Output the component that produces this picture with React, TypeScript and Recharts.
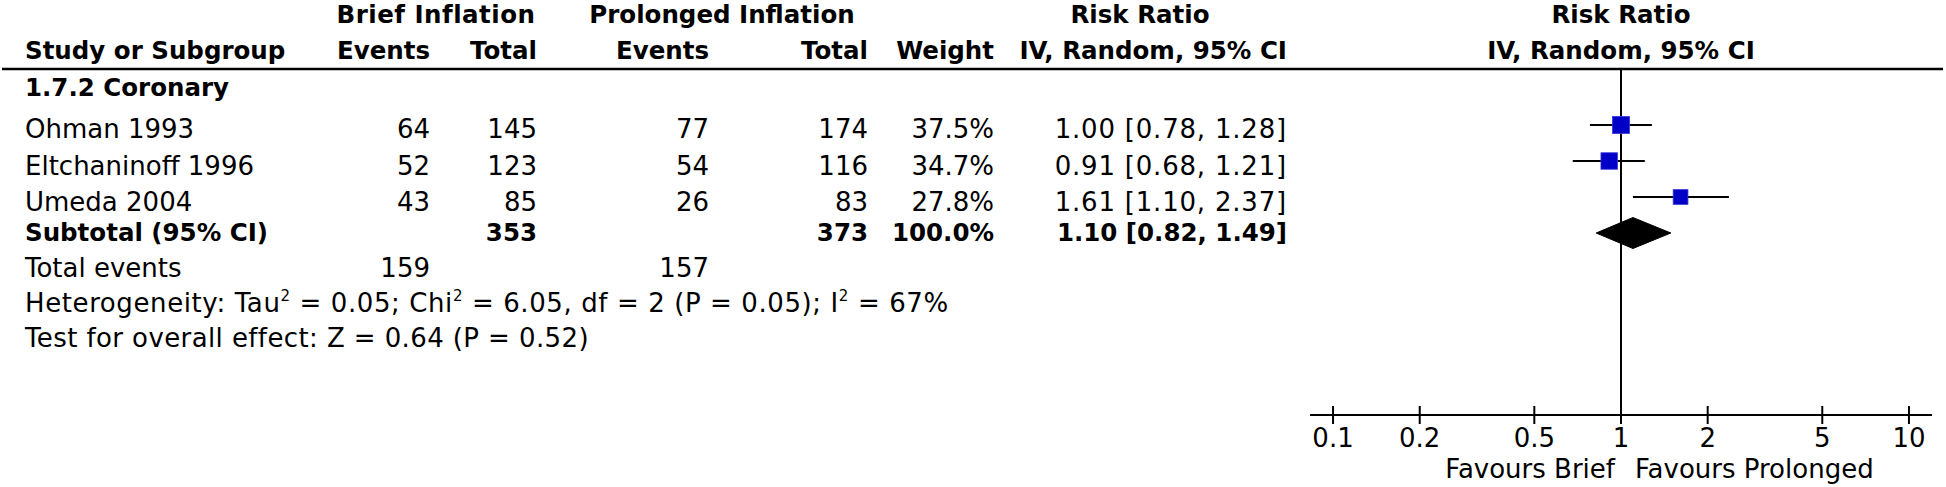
import React from 'react';
import { ComposedChart, XAxis, YAxis, Scatter, Area, ReferenceLine } from 'recharts';

// ---------------- data ----------------
const studyNames = ['Ohman 1993', 'Eltchaninoff 1996', 'Umeda 2004'];
const briefEvents = [64, 52, 43];
const briefTotals = [145, 123, 85];
const prolongedEvents = [77, 54, 26];
const prolongedTotals = [174, 116, 83];
const weights = [37.5, 34.7, 27.8];
const riskRatios = [1.0, 0.91, 1.61];
const ciLower = [0.78, 0.68, 1.1];
const ciUpper = [1.28, 1.21, 2.37];

const subgroupTitle = '1.7.2 Coronary';
const subtotalLabel = 'Subtotal (95% CI)';
const subtotalTotals = [353, 373];
const subtotalWeight = [100.0];
const subtotalEstimate = [1.1, 0.82, 1.49]; // RR, lower, upper
const totalEvents = [159, 157];
const heterogeneityParts = ['Heterogeneity: Tau', ' = 0.05; Chi', ' = 6.05, df = 2 (P = 0.05); I', ' = 67%'];
const overallEffectText = 'Test for overall effect: Z = 0.64 (P = 0.52)';
const axisTicks = [0.1, 0.2, 0.5, 1, 2, 5, 10];
const axisTickLabels = ['0.1', '0.2', '0.5', '1', '2', '5', '10'];
const favourLabels = ['Favours Brief', 'Favours Prolonged'];
const groupHeaders = ['Brief Inflation', 'Prolonged Inflation', 'Risk Ratio', 'Risk Ratio'];
const columnHeaders = ['Study or Subgroup', 'Events', 'Total', 'Events', 'Total', 'Weight', 'IV, Random, 95% CI', 'IV, Random, 95% CI'];

// ---------------- layout / style ----------------
const W = 1946;
const H = 487;
const FONT = '"DejaVu Sans", Verdana, sans-serif';
const FS = 26;
const FSB = 24.5;
const PLOT_LEFT = 1310;
const PLOT_RIGHT = 1932;
const PLOT_TOP = 69;
const AXIS_Y = 415;
const ROW1_CENTER = 125;
const ROW_SPACING = 36;
const X_DOMAIN = [Math.pow(10, -1.08), Math.pow(10, 1.08)];
const Y_DOMAIN = [1 - (ROW1_CENTER - PLOT_TOP) / ROW_SPACING, 1 + (AXIS_Y - ROW1_CENTER) / ROW_SPACING];
const SQUARE_SCALE = 2.8;
const DIAMOND_HALF = 15.5 / ROW_SPACING;
const BLUE = '#0000c6';
const X_ONE = (PLOT_LEFT + PLOT_RIGHT) / 2;

const colRight = [430, 537, 709, 868, 994, 1287];
const rowBaselines = [138, 175, 211];
const subtotalBaseline = 241;
const footerBaselines = [277, 312, 347];

const fmt2 = (v: number) => v.toFixed(2);
const ciText = (e: number, l: number, u: number) => `${fmt2(e)} [${fmt2(l)}, ${fmt2(u)}]`;

// chart tables built from the arrays
const studyPoints = studyNames.map((name, i) => ({ x: riskRatios[i], row: i + 1, w: weights[i], name }));
const subtotalRow = studyNames.length + 1;
const diamondData = [
  { x: subtotalEstimate[1], d: [subtotalRow, subtotalRow] },
  { x: subtotalEstimate[0], d: [subtotalRow - DIAMOND_HALF, subtotalRow + DIAMOND_HALF] },
  { x: subtotalEstimate[2], d: [subtotalRow, subtotalRow] },
];

const SquareShape = (props: any) => {
  const { cx, cy, payload } = props;
  if (cx == null || cy == null) return null;
  const s = SQUARE_SCALE * Math.sqrt(payload.w);
  return <rect x={cx - s / 2} y={cy - s / 2} width={s} height={s} fill={BLUE} stroke="#3a3ae0" strokeWidth={0.8} />;
};

const AxisTick = (props: any) => {
  const { x, y, payload } = props;
  const idx = axisTicks.indexOf(payload.value);
  const label = idx >= 0 ? axisTickLabels[idx] : String(payload.value);
  return (
    <g>
      <line x1={x} x2={x} y1={y - 9} y2={y + 9} stroke="#000" strokeWidth={2} />
      <text x={x} y={y + 32} textAnchor="middle" fontSize={FS} fontFamily={FONT} fill="#000">
        {label}
      </text>
    </g>
  );
};

const T = (p: any) => <text fontFamily={FONT} fill="#000" fontSize={FS} {...p} />;
const TB = (p: any) => <text fontFamily={FONT} fill="#000" fontSize={FSB} fontWeight="bold" {...p} />;

export default function App() {
  return (
    <div style={{ position: 'absolute', left: 0, top: 0, width: W, height: H, background: '#fff' }}>
      <ComposedChart
        width={W}
        height={H}
        margin={{ top: PLOT_TOP, right: W - PLOT_RIGHT, bottom: 0, left: PLOT_LEFT }}
      >
        <XAxis
          type="number"
          dataKey="x"
          scale="log"
          domain={X_DOMAIN}
          allowDataOverflow
          ticks={axisTicks}
          interval={0}
          height={H - AXIS_Y}
          tickSize={0}
          tickMargin={0}
          tickLine={false}
          axisLine={{ stroke: '#000', strokeWidth: 2 }}
          tick={<AxisTick />}
        />
        <YAxis type="number" dataKey="row" domain={Y_DOMAIN} allowDataOverflow reversed hide />
        <ReferenceLine x={1} stroke="#000" strokeWidth={2} />
        {studyPoints.map((p, i) => (
          <ReferenceLine
            key={p.name}
            segment={[
              { x: ciLower[i], y: p.row },
              { x: ciUpper[i], y: p.row },
            ]}
            stroke="#000"
            strokeWidth={2}
          />
        ))}
        <Scatter data={studyPoints} shape={<SquareShape />} isAnimationActive={false} />
        <Area
          data={diamondData}
          dataKey="d"
          type="linear"
          stroke="#000"
          strokeWidth={1}
          fill="#000"
          fillOpacity={1}
          isAnimationActive={false}
          dot={false}
          activeDot={false}
        />
      </ComposedChart>
      <svg width={W} height={H} style={{ position: 'absolute', left: 0, top: 0, pointerEvents: 'none' }}>
        {/* group headers */}
        <TB x={436} y={23} textAnchor="middle" letterSpacing={0.5}>{groupHeaders[0]}</TB>
        <TB x={722} y={23} textAnchor="middle">{groupHeaders[1]}</TB>
        <TB x={1140} y={23} textAnchor="middle">{groupHeaders[2]}</TB>
        <TB x={X_ONE} y={23} textAnchor="middle">{groupHeaders[3]}</TB>
        {/* column headers */}
        <TB x={25} y={59}>{columnHeaders[0]}</TB>
        {colRight.map((x, i) => (
          <TB key={i} x={x} y={59} textAnchor="end">{columnHeaders[i + 1]}</TB>
        ))}
        <TB x={X_ONE} y={59} textAnchor="middle">{columnHeaders[7]}</TB>
        <line x1={2} x2={1943} y1={PLOT_TOP} y2={PLOT_TOP} stroke="#000" strokeWidth={2.5} />
        <TB x={25} y={96}>{subgroupTitle}</TB>
        {studyNames.map((name, i) => (
          <g key={name}>
            <T x={25} y={rowBaselines[i]}>{name}</T>
            <T x={colRight[0]} y={rowBaselines[i]} textAnchor="end">{briefEvents[i]}</T>
            <T x={colRight[1]} y={rowBaselines[i]} textAnchor="end">{briefTotals[i]}</T>
            <T x={colRight[2]} y={rowBaselines[i]} textAnchor="end">{prolongedEvents[i]}</T>
            <T x={colRight[3]} y={rowBaselines[i]} textAnchor="end">{prolongedTotals[i]}</T>
            <T x={colRight[4]} y={rowBaselines[i]} textAnchor="end">{weights[i].toFixed(1)}%</T>
            <T x={colRight[5]} y={rowBaselines[i]} textAnchor="end" letterSpacing={0.8}>
              {ciText(riskRatios[i], ciLower[i], ciUpper[i])}
            </T>
          </g>
        ))}
        <TB x={25} y={subtotalBaseline}>{subtotalLabel}</TB>
        <TB x={colRight[1]} y={subtotalBaseline} textAnchor="end">{subtotalTotals[0]}</TB>
        <TB x={colRight[3]} y={subtotalBaseline} textAnchor="end">{subtotalTotals[1]}</TB>
        <TB x={colRight[4]} y={subtotalBaseline} textAnchor="end">{subtotalWeight[0].toFixed(1)}%</TB>
        <TB x={colRight[5]} y={subtotalBaseline} textAnchor="end">
          {ciText(subtotalEstimate[0], subtotalEstimate[1], subtotalEstimate[2])}
        </TB>
        <T x={25} y={footerBaselines[0]}>Total events</T>
        <T x={colRight[0]} y={footerBaselines[0]} textAnchor="end">{totalEvents[0]}</T>
        <T x={colRight[2]} y={footerBaselines[0]} textAnchor="end">{totalEvents[1]}</T>
        <T x={25} y={footerBaselines[1]} letterSpacing={0.6}>
          {heterogeneityParts[0]}
          <tspan fontSize={15} dy={-11}>2</tspan>
          <tspan dy={11}>{heterogeneityParts[1]}</tspan>
          <tspan fontSize={15} dy={-11}>2</tspan>
          <tspan dy={11}>{heterogeneityParts[2]}</tspan>
          <tspan fontSize={15} dy={-11}>2</tspan>
          <tspan dy={11}>{heterogeneityParts[3]}</tspan>
        </T>
        <T x={25} y={footerBaselines[2]} letterSpacing={0.4}>{overallEffectText}</T>
        <T x={X_ONE - 6} y={478} textAnchor="end">{favourLabels[0]}</T>
        <T x={X_ONE + 14} y={478} textAnchor="start">{favourLabels[1]}</T>
      </svg>
    </div>
  );
}
